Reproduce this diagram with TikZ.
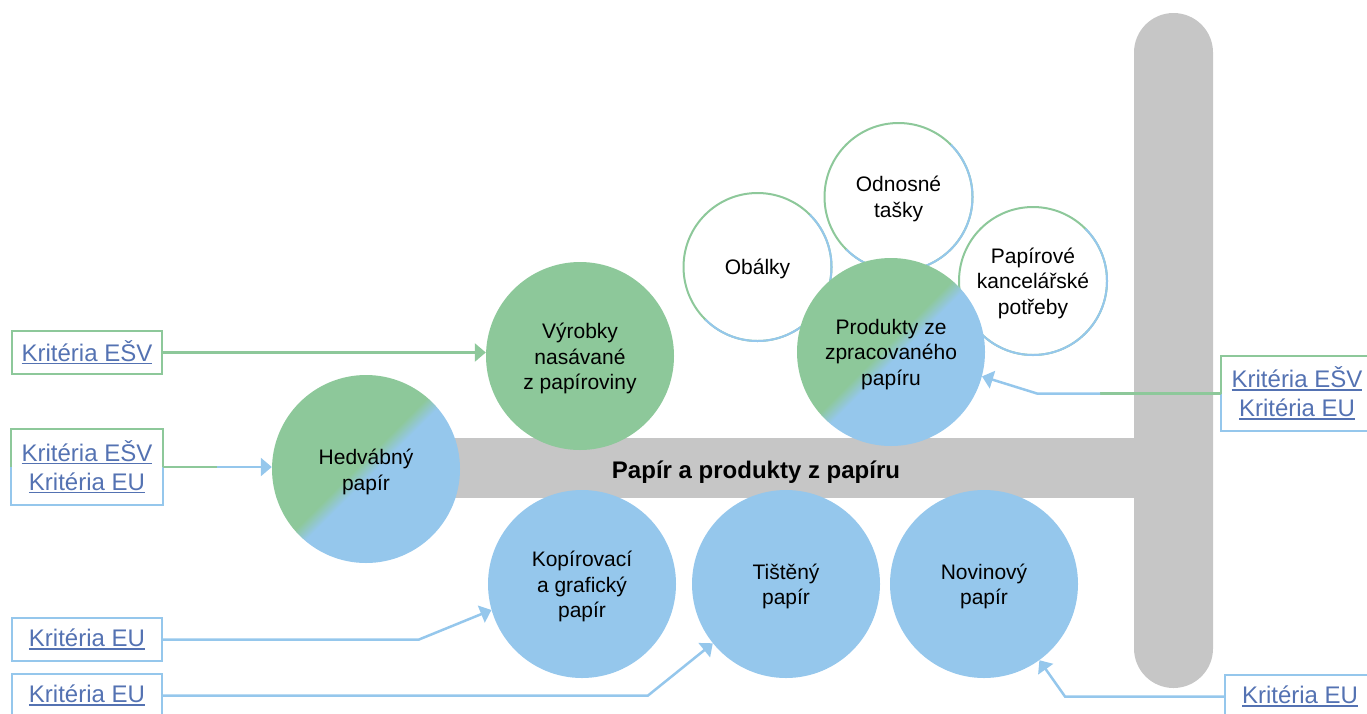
\documentclass[tikz,border=0pt]{standalone}
\usepackage{fontspec}
\setmainfont{Liberation Sans}
\usetikzlibrary{arrows.meta}
\definecolor{cgreen}{HTML}{8DC89A}
\definecolor{cblue}{HTML}{95C7EC}
\definecolor{cgray}{HTML}{C6C6C6}
\definecolor{clink}{HTML}{5472B2}
\pgfdeclarehorizontalshading{gbsh}{100bp}{color(0bp)=(cgreen); color(48bp)=(cgreen); color(52bp)=(cblue); color(100bp)=(cblue)}
\newcommand{\lnk}[1]{\setbox0\hbox{#1}\rlap{\rule[-3pt]{\wd0}{1.6pt}}\box0}
\tikzset{
  bigc/.style={circle, minimum size=188, inner sep=0pt},
  gcirc/.style={bigc, fill=cgreen},
  bcirc/.style={bigc, fill=cblue},
  gbcirc/.style={bigc, shade, shading=gbsh, shading angle=-45},
  smallc/.style={circle, minimum size=148, inner sep=0pt, fill=white, draw=cgreen, line width=2pt},
  ctext/.style={align=center, inner sep=0pt, font=\fontsize{21}{25.5}\selectfont},
  kbox/.style={minimum width=150, inner sep=0pt, align=center, text=clink, line width=2.2pt, font=\fontsize{24}{29}\selectfont},
  gline/.style={draw=cgreen, line width=2.5pt},
  bline/.style={draw=cblue, line width=2.5pt},
  tip/.style={-{Triangle[length=11pt,width=18pt]}},
  barc/.style={cblue, line width=2pt},
}
\begin{document}
\begin{tikzpicture}[x=1pt,y=-1pt]
\useasboundingbox (0,0) rectangle (1367,713);
% gray bars
\fill[cgray] (400,438) rectangle (1140,498);
\fill[cgray, rounded corners=39.5pt] (1134,13) rectangle (1213,688);
% outline circles
\node[smallc] (obal) at (757.5,267) {};
\draw[barc] (757.5,267) ++(-45:74) arc[start angle=-45, end angle=135, radius=74];
\node[ctext] (obalt) at ([yshift=-2pt]obal.center) {Obálky};
\node[smallc] (odn) at (898.5,197) {};
\draw[barc] (898.5,197) ++(-45:74) arc[start angle=-45, end angle=135, radius=74];
\node[ctext] (odnt) at ([yshift=-2pt]odn.center) {Odnosné\\tašky};
\node[smallc] (pap) at (1033,281) {};
\draw[barc] (1033,281) ++(-45:74) arc[start angle=-45, end angle=135, radius=74];
\node[ctext] (papt) at ([yshift=-2pt]pap.center) {Papírové\\kancelářské\\potřeby};
% filled circles
\node[gbcirc] (hed) at (366,469) {};
\node[ctext] (hedt) at ([yshift=-3pt]hed.center) {Hedvábný\\papír};
\node[gcirc] (vyr) at (580,356) {};
\node[ctext] (vyrt) at ([yshift=-2.5pt]vyr.center) {Výrobky\\nasávané\\z papíroviny};
\node[gbcirc] (prod) at (891,352) {};
\node[ctext] (prodt) at ([yshift=-2.5pt]prod.center) {Produkty ze\\zpracovaného\\papíru};
\node[bcirc] (kop) at (582,584) {};
\node[ctext] (kopt) at ([yshift=-2.5pt]kop.center) {Kopírovací\\a grafický\\papír};
\node[bcirc] (tis) at (786,584) {};
\node[ctext] (tist) at ([yshift=-2.5pt]tis.center) {Tištěný\\papír};
\node[bcirc] (nov) at (984,584) {};
\node[ctext] (novt) at ([yshift=-2.5pt]nov.center) {Novinový\\papír};
% center label
\node[anchor=base, inner sep=0pt, font=\bfseries\fontsize{24}{28}\selectfont] (lbl) at (756,478) {Papír a produkty z papíru};
% boxes
\node[kbox, draw=cgreen, minimum height=43] (k1) at (87,352.5) {\lnk{Kritéria EŠV}};
\node[kbox, minimum height=74] (k2) at (87,467) {\lnk{Kritéria EŠV}\\\lnk{Kritéria EU}};
\draw[cgreen, line width=2.2pt] (k2.west) |- (k2.north) -| (k2.east);
\draw[cblue, line width=2.2pt] (k2.west) |- (k2.south) -| (k2.east);
\node[kbox, draw=cblue, minimum height=43] (k3) at (87,639.5) {\lnk{Kritéria EU}};
\node[kbox, draw=cblue, minimum height=43] (k4) at (87,695.5) {\lnk{Kritéria EU}};
\node[kbox, minimum height=73] (r1) at (1297,393.5) {\lnk{Kritéria EŠV}\\\lnk{Kritéria EU}};
\draw[cgreen, line width=2.2pt] (r1.west) |- (r1.north) -| (r1.east);
\draw[cblue, line width=2.2pt] (r1.west) |- (r1.south) -| (r1.east);
\node[kbox, draw=cblue, minimum height=43] (r2) at (1300,696.5) {\lnk{Kritéria EU}};
% connectors
\draw[gline, tip] (k1.east) -- (k1.east -| vyr.west);
\coordinate (m2) at (217,467);
\draw[gline] (k2.east) -- (m2);
\draw[bline, tip] (m2) -- (k2.east -| hed.west);
\coordinate (b3) at (419,639.5);
\draw[bline, tip] (k3.east) -- (b3) -- (kop.196);
\coordinate (b4) at (648,695.5);
\draw[bline, tip] (k4.east) -- (b4) -- (tis.219);
\coordinate (m5) at (1100,393.5);
\coordinate (b5) at (1037,393.5);
\draw[gline] (r1.west) -- (m5);
\draw[bline, tip] (m5) -- (b5) -- (prod.-15);
\coordinate (b6) at (1065,696.5);
\draw[bline, tip] (r2.west) -- (b6) -- (nov.-54);
\end{tikzpicture}
\end{document}
